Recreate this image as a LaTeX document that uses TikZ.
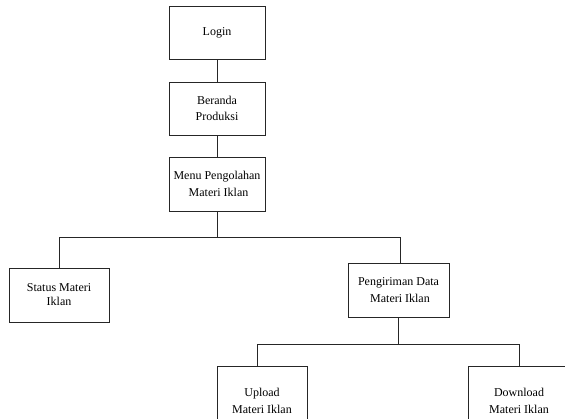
\documentclass[tikz,border=0pt]{standalone}
\usepackage{fontspec}
\setmainfont{Liberation Serif}
\begin{document}
\begin{tikzpicture}[x=1pt,y=-1pt,
  box/.style={draw=black!85,line width=0.9pt,rectangle,align=center,inner sep=0pt,
    font=\fontsize{12}{16.5}\selectfont},
  link/.style={draw=black!85,line width=0.9pt}]
\useasboundingbox (0,0) rectangle (565,418);
\clip (0,0) rectangle (565,418);
\node[box,minimum width=96pt,minimum height=53pt] (login) at (217,32.5) {Login};
\node[box,minimum width=96pt,minimum height=53pt] (beranda) at (217,108.5) {Beranda\\Produksi};
\node[box,minimum width=96pt,minimum height=54pt] (menu) at (217,184) {Menu Pengolahan\\\ Materi Iklan};
\node[box,minimum width=100pt,minimum height=54pt,font=\fontsize{12}{14}\selectfont] (status) at (59,295) {Status Materi\\Iklan};
\node[box,minimum width=101pt,minimum height=54pt] (peng) at (398.5,290) {Pengiriman Data\\\ Materi Iklan};
\node[box,minimum width=90pt,minimum height=70pt] (upload) at (262,401) {Upload\\Materi Iklan};
\node[box,minimum width=102pt,minimum height=70pt] (download) at (519,401) {Download\\Materi Iklan};
\coordinate (b1) at (217,237);
\coordinate (b2) at (398.5,344);
\draw[link] (login) -- (beranda);
\draw[link] (beranda) -- (menu);
\draw[link] (menu) -- (b1);
\draw[link] (status.north) |- (b1);
\draw[link] ([xshift=1.5pt]peng.north) |- (b1);
\draw[link] (peng.south) -- (b2);
\draw[link] ([xshift=-5pt]upload.north) |- (b2);
\draw[link] (download.north) |- (b2);
\end{tikzpicture}
\end{document}
